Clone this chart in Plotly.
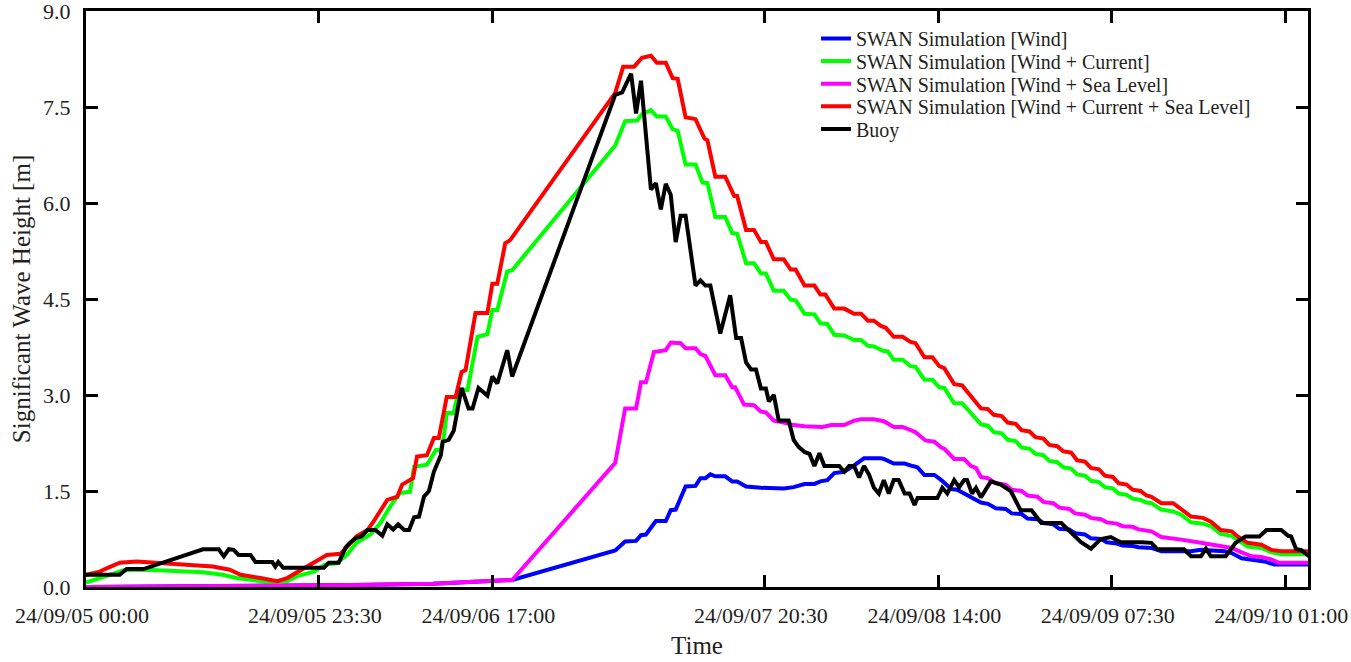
import pandas as pd
import plotly.graph_objects as go

# ---------------- data (hours since 2024-09-05 00:00, Hs in m) ----------------
wind_t = [0.0, 13.0, 27.0, 35.0, 41.0, 43.0, 53.4, 54.4, 55.5, 56.0, 56.5, 57.5, 58.5, 59.0, 59.5,
          60.5, 61.5, 62.0, 62.5, 63.0, 63.5, 64.5, 65.2, 65.7, 66.6, 68.1, 70.4, 71.4, 72.5,
          73.5, 74.1, 74.8, 75.5, 76.5, 77.5, 78.5, 80.2, 80.5, 81.5, 82.6, 83.4, 83.9, 84.6,
          85.6, 86.3, 87.3, 87.9, 88.9, 90.3, 91.0, 91.8, 92.8, 93.4, 94.4, 95.0, 96.0, 96.6,
          97.6, 98.2, 99.2, 99.8, 100.8, 101.4, 102.4, 103.0, 104.0, 104.6, 105.6, 106.2, 107.5,
          108.5, 111.5, 112.5, 114.9, 115.6, 116.6, 117.6, 118.9, 119.9, 123.4]
wind_v = [0.0, 0.01, 0.03, 0.05, 0.09, 0.11, 0.57, 0.71, 0.72, 0.81, 0.82, 1.03, 1.03, 1.20, 1.21,
          1.57, 1.58, 1.70, 1.70, 1.76, 1.73, 1.73, 1.65, 1.65, 1.57, 1.55, 1.54, 1.56, 1.61,
          1.61, 1.65, 1.67, 1.78, 1.80, 1.90, 2.01, 2.01, 2.00, 1.93, 1.93, 1.89, 1.87, 1.75,
          1.75, 1.67, 1.53, 1.52, 1.43, 1.32, 1.30, 1.23, 1.22, 1.15, 1.14, 1.07, 1.06, 1.00,
          0.98, 0.91, 0.90, 0.84, 0.82, 0.76, 0.75, 0.70, 0.68, 0.65, 0.64, 0.62, 0.61,
          0.56, 0.56, 0.58, 0.56, 0.53, 0.45, 0.43, 0.40, 0.35, 0.35]

cur_t = [0.0, 1.4, 2.7, 3.8, 6.1, 11.8, 13.8, 15.2, 17.2, 18.9, 20.3, 21.3, 23.0, 24.1, 25.3,
         26.3, 27.3, 28.7, 29.7, 30.7, 31.7, 32.7, 33.1, 34.4, 35.3, 35.8, 36.1, 36.4, 37.1,
         37.6, 38.5, 39.5, 40.5, 41.0, 41.5, 42.5, 43.0, 53.4, 54.4, 55.6, 56.1, 57.0, 57.6,
         58.5, 59.2, 59.7, 60.5, 61.5, 62.2, 62.7, 63.5, 64.5, 65.2, 65.7, 66.6, 67.4, 68.1,
         68.6, 69.4, 70.4, 71.1, 71.6, 72.5, 73.5, 74.1, 74.8, 75.5, 76.5, 77.5, 78.2, 78.9,
         79.5, 80.4, 80.9, 81.5, 82.4, 83.2, 83.7, 84.6, 85.4, 86.1, 86.6, 87.6, 88.4, 89.1,
         90.3, 91.0, 91.6, 92.4, 93.0, 93.8, 94.4, 95.2, 95.8, 96.6, 97.2, 98.0, 98.6, 99.4,
         100.0, 100.8, 101.4, 102.2, 102.8, 103.6, 104.2, 105.0, 105.6, 106.4, 107.0,
         107.5, 108.5, 109.7, 110.5, 111.5, 112.7,
         113.5, 114.5, 115.6, 116.2, 117.2, 118.6, 119.6, 120.6, 123.4]
cur_v = [0.07, 0.14, 0.19, 0.26, 0.27, 0.23, 0.19, 0.14, 0.10, 0.06, 0.09, 0.17, 0.24, 0.35, 0.37,
         0.50, 0.69, 0.82, 1.00, 1.26, 1.47, 1.49, 1.88, 1.91, 2.14, 2.14, 2.35, 2.72, 2.72,
         3.08, 3.08, 3.91, 3.95, 4.33, 4.33, 4.93, 4.95, 6.90, 7.28, 7.29, 7.39, 7.45, 7.35,
         7.35, 7.15, 7.13, 6.60, 6.60, 6.32, 6.31, 5.78, 5.78, 5.53, 5.52, 5.06, 5.06, 4.90,
         4.90, 4.63, 4.63, 4.49, 4.48, 4.27, 4.26, 4.12, 4.11, 3.94, 3.93, 3.86, 3.86, 3.77,
         3.76, 3.69, 3.68, 3.55, 3.55, 3.45, 3.44, 3.24, 3.24, 3.12, 3.11, 2.87, 2.87, 2.75,
         2.54, 2.52, 2.42, 2.40, 2.30, 2.28, 2.18, 2.16, 2.08, 2.06, 1.97, 1.95, 1.87, 1.85,
         1.76, 1.74, 1.66, 1.64, 1.56, 1.54, 1.46, 1.44, 1.38, 1.36, 1.32,
         1.31, 1.21, 1.18, 1.13, 1.01, 0.99,
         0.95, 0.83, 0.80, 0.74, 0.63, 0.61, 0.54, 0.51, 0.51]

sea_t = [0.0, 13.0, 27.0, 35.0, 41.0, 43.0, 53.4, 54.4, 55.5, 56.0, 56.5, 57.3, 58.5, 59.0, 60.0,
         60.5, 61.5, 62.0, 62.5, 63.5, 64.5, 65.2, 65.5, 66.4, 67.4, 68.1, 68.6, 69.4, 70.4,
         71.4, 72.5, 74.3, 75.2, 76.5, 77.5, 78.2, 79.5, 80.5, 81.5, 82.4, 83.4, 83.7, 84.7,
         85.6, 86.3, 86.6, 87.6, 88.6, 89.3, 89.8, 90.3, 91.0, 91.8, 92.8, 93.4, 94.4, 95.0,
         96.0, 96.6, 97.6, 98.2, 99.2, 99.8, 100.8, 101.4, 102.4, 103.0, 104.0, 104.6, 105.6,
         106.2, 107.5, 108.5, 109.7, 110.5, 112.5, 114.2, 115.6, 116.6, 117.6, 118.6, 119.6,
         120.3, 123.4]
sea_v = [0.0, 0.01, 0.03, 0.05, 0.09, 0.11, 1.94, 2.79, 2.79, 3.20, 3.20, 3.67, 3.70, 3.82, 3.81,
         3.73, 3.73, 3.64, 3.61, 3.31, 3.31, 3.12, 3.12, 2.85, 2.84, 2.74, 2.73, 2.60, 2.57,
         2.53, 2.51, 2.50, 2.53, 2.53, 2.60, 2.62, 2.62, 2.59, 2.50, 2.50, 2.44, 2.42, 2.29,
         2.27, 2.18, 2.16, 2.00, 2.00, 1.89, 1.86, 1.72, 1.70, 1.62, 1.60, 1.52, 1.50, 1.43,
         1.41, 1.33, 1.31, 1.24, 1.22, 1.15, 1.13, 1.08, 1.06, 1.01, 0.99, 0.95, 0.94,
         0.90, 0.87, 0.78, 0.76, 0.74, 0.69, 0.64, 0.61, 0.54, 0.48, 0.47, 0.43,
         0.38, 0.38]

all_t = [0.0, 1.4, 2.2, 3.4, 5.1, 9.5, 12.8, 14.5, 15.6, 17.6, 19.3, 20.3, 21.3, 22.9, 24.3,
         25.7, 26.3, 27.3, 28.4, 29.0, 30.4, 31.4, 31.9, 33.0, 33.4, 34.4, 35.1, 35.6, 36.4,
         37.3, 37.9, 38.3, 39.3, 40.5, 41.0, 41.5, 42.3, 42.8, 53.4, 54.2, 55.3, 56.1, 57.0,
         57.6, 58.5, 59.2, 59.7, 60.5, 61.5, 62.4, 62.7, 63.5, 64.5, 65.4, 65.7, 66.6, 67.4,
         68.1, 68.6, 69.4, 70.4, 71.1, 71.6, 72.5, 73.5, 74.1, 74.6, 75.5, 76.5, 77.5, 78.2,
         78.9, 79.5, 80.2, 80.7, 81.5, 82.4, 83.2, 83.7, 84.6, 85.4, 86.1, 86.6, 87.6, 88.4,
         89.1, 90.3, 91.0, 91.6, 92.4, 93.0, 93.8, 94.4, 95.2, 95.8, 96.6, 97.2, 98.0, 98.6,
         99.4, 100.0, 100.8, 101.4, 102.2, 102.8, 103.6, 104.2, 105.0, 105.6, 106.4, 107.0,
         107.5, 108.5, 109.7, 110.5, 111.5,
         112.7, 113.5, 114.5, 115.6, 116.2, 117.2, 118.6, 119.6, 120.6, 123.4]
all_v = [0.19, 0.24, 0.30, 0.38, 0.40, 0.36, 0.32, 0.27, 0.19, 0.14, 0.09, 0.14, 0.23, 0.36, 0.50,
         0.52, 0.63, 0.79, 0.89, 1.02, 1.36, 1.41, 1.60, 1.70, 2.04, 2.06, 2.33, 2.33, 2.97,
         2.97, 3.36, 3.39, 4.28, 4.28, 4.74, 4.74, 5.37, 5.42, 7.72, 8.13, 8.13, 8.27, 8.30,
         8.19, 8.19, 7.95, 7.94, 7.34, 7.31, 7.01, 6.98, 6.41, 6.41, 6.11, 6.11, 5.58, 5.58,
         5.39, 5.39, 5.12, 5.12, 4.96, 4.96, 4.71, 4.71, 4.57, 4.57, 4.35, 4.35, 4.27, 4.27,
         4.16, 4.16, 4.08, 4.05, 3.91, 3.91, 3.83, 3.81, 3.59, 3.59, 3.45, 3.42, 3.17, 3.15,
         3.01, 2.79, 2.78, 2.69, 2.67, 2.57, 2.55, 2.45, 2.43, 2.34, 2.32, 2.22, 2.20, 2.12,
         2.10, 1.98, 1.96, 1.86, 1.84, 1.74, 1.72, 1.62, 1.60, 1.52, 1.50, 1.43,
         1.41, 1.31, 1.31, 1.22, 1.10,
         1.08, 1.02, 0.89, 0.87, 0.79, 0.69, 0.66, 0.58, 0.56, 0.56]

buoy_t = [0.0, 3.4, 4.1, 5.8, 11.8, 13.4, 13.9, 14.4, 14.9, 15.4, 16.6, 17.1, 18.8, 19.1, 19.4,
          19.9, 24.0, 24.5, 25.5, 26.2, 26.7, 27.3, 27.8, 28.4, 29.2, 29.9, 30.4, 31.0, 31.5,
          32.1, 32.6, 33.1, 33.6, 34.1, 34.6, 35.1, 35.8, 36.0, 36.6, 37.1, 37.9, 38.6, 39.0,
          39.6, 40.5, 41.0, 41.5, 42.5, 43.0, 53.4, 54.1, 55.0, 55.5, 56.0, 57.0, 57.5, 58.0,
          58.5, 59.0, 59.5, 60.0, 60.5, 61.5, 62.0, 62.5, 63.0, 64.0, 65.0, 65.6, 66.1, 66.6,
          67.1, 67.6, 68.1, 68.6, 68.9, 69.4, 69.9, 70.9, 71.4, 71.9, 72.5, 73.0, 73.5, 74.0,
          74.5, 76.0, 76.5, 77.0, 77.5, 78.0, 78.5, 79.0, 79.5, 80.0, 80.5, 81.0, 81.5, 82.0,
          82.6, 83.1, 83.6, 83.9, 85.9, 86.4, 86.9, 87.6, 88.1, 88.6, 88.9, 89.4, 89.8, 90.3,
          91.3, 92.3, 93.3, 94.3, 95.4, 96.4, 98.4, 99.4, 100.4, 101.4, 102.4, 103.4, 104.4,
          106.5, 107.5, 108.1, 110.8, 111.5, 112.5, 113.0, 113.5, 115.0, 116.0, 117.0, 118.4,
          119.1, 120.6, 121.3, 121.6, 122.1, 122.6, 123.4]
buoy_v = [0.19, 0.19, 0.28, 0.28, 0.59, 0.59, 0.48, 0.59, 0.58, 0.50, 0.50, 0.39, 0.39, 0.32, 0.39,
          0.30, 0.30, 0.38, 0.38, 0.62, 0.70, 0.77, 0.79, 0.89, 0.89, 0.80, 0.98, 0.90, 0.98,
          0.89, 0.89, 1.09, 1.10, 1.41, 1.50, 1.80, 2.06, 2.27, 2.30, 2.44, 3.11, 2.79, 2.79,
          3.11, 2.99, 3.29, 3.18, 3.70, 3.29, 7.69, 7.73, 8.02, 7.40, 7.91, 6.21, 6.31, 5.90,
          6.30, 6.13, 5.39, 5.80, 5.80, 4.71, 4.79, 4.71, 4.71, 3.96, 4.56, 3.89, 3.89, 3.51,
          3.40, 3.40, 3.10, 3.10, 2.90, 3.00, 2.60, 2.60, 2.30, 2.19, 2.11, 2.08, 1.89, 2.09,
          1.89, 1.89, 1.80, 1.89, 1.89, 1.71, 1.89, 1.76, 1.55, 1.46, 1.67, 1.46, 1.67, 1.67,
          1.46, 1.46, 1.28, 1.39, 1.39, 1.55, 1.46, 1.67, 1.56, 1.67, 1.67, 1.46, 1.55, 1.40,
          1.65, 1.60, 1.50, 1.20, 1.20, 1.00, 1.00, 0.85, 0.70, 0.60, 0.75, 0.78, 0.70,
          0.70, 0.69, 0.59, 0.59, 0.48, 0.48, 0.60, 0.48, 0.48, 0.69, 0.79, 0.79,
          0.89, 0.89, 0.80, 0.79, 0.59, 0.58, 0.48]

tick_hours = [0.0, 23.5, 41.0, 68.5, 86.0, 103.5, 121.0]
y_ticks = [0.0, 1.5, 3.0, 4.5, 6.0, 7.5, 9.0]

names = ["SWAN Simulation [Wind]",
         "SWAN Simulation [Wind + Current]",
         "SWAN Simulation [Wind + Sea Level]",
         "SWAN Simulation [Wind + Current + Sea Level]",
         "Buoy"]
colors = ["#0000ff", "#00ff00", "#ff00ff", "#ff0000", "#000000"]
series = [(wind_t, wind_v), (cur_t, cur_v), (sea_t, sea_v), (all_t, all_v), (buoy_t, buoy_v)]

base = pd.Timestamp("2024-09-05 00:00")


def to_time(hours):
    return base + pd.to_timedelta(hours, unit="h")


FONT = "Liberation Serif"
TXT = "#231f20"

fig = go.Figure()
legend_ids = ["legend", "legend2", "legend3", "legend4", "legend5"]
for (t, v), name, col, lg in zip(series, names, colors, legend_ids):
    fig.add_trace(go.Scatter(x=to_time(t), y=v, mode="lines", name=name,
                             line=dict(color=col, width=4), legend=lg, showlegend=True))

# one single-entry legend per series so that row spacing can follow the figure
row_y = [38.5, 61.1, 83.7, 106.3, 128.9]   # pixel centres of the legend boxes
plot_top, plot_bot, plot_left, plot_w = 11, 587, 86, 1222
legends = {}
for lg, ypx in zip(legend_ids, row_y):
    legends[lg] = dict(x=(816 - plot_left) / plot_w, y=(plot_bot - ypx) / (plot_bot - plot_top),
                       xanchor="left", yanchor="middle", bgcolor="rgba(0,0,0,0)",
                       borderwidth=0, visible=True, font=dict(family=FONT, size=20, color=TXT))

axis_common = dict(showline=True, linewidth=3, linecolor="black", mirror="ticks",
                   ticks="inside", ticklen=12, tickwidth=3, tickcolor="black",
                   showgrid=False, zeroline=False, automargin=False,
                   ticklabeloverflow="allow",
                   tickfont=dict(family=FONT, size=22, color=TXT))

fig.update_layout(
    width=1351, height=662,
    margin=dict(l=86, r=43, t=11, b=75, pad=0, autoexpand=False),
    paper_bgcolor="white", plot_bgcolor="white",
    showlegend=True,
    font=dict(family=FONT, color=TXT),
    xaxis=dict(type="date", range=[to_time(0.0), to_time(123.3)],
               tickvals=list(to_time(tick_hours)), tickformat="%y/%m/%d %H:%M",
               ticklabelshift=-4, ticklabelstandoff=7,
               title=dict(text="Time", font=dict(family=FONT, size=25, color=TXT), standoff=10),
               **axis_common),
    yaxis=dict(range=[0, 9], tickvals=y_ticks, tickformat=".1f", ticklabelstandoff=8,
               title=dict(text="Significant Wave Height [m]",
                          font=dict(family=FONT, size=25, color=TXT), standoff=6),
               **axis_common),
    **legends,
)

fig.write_html("out.html")
